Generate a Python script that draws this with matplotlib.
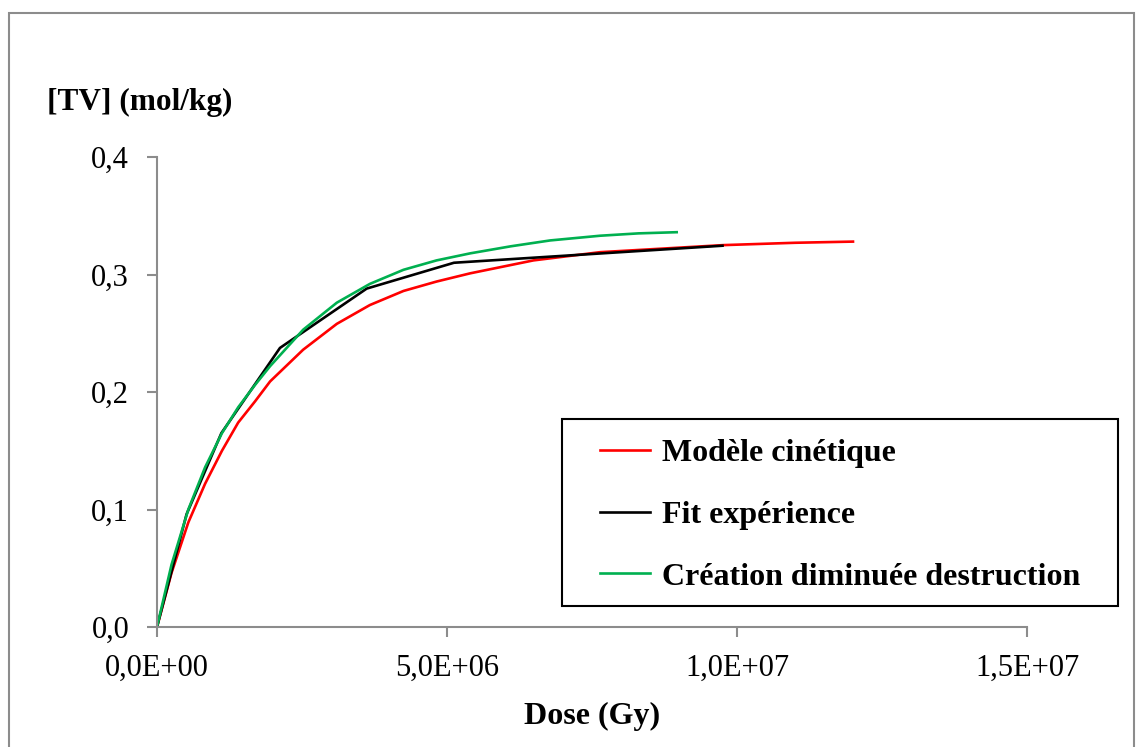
import matplotlib
matplotlib.use("Agg")
import matplotlib.pyplot as plt
from matplotlib.patches import Rectangle

plt.rcParams['font.family'] = ['Liberation Serif', 'DejaVu Serif']

# Data (dose in Gy, [TV] in mol/kg)
dose_modele = [0, 0.25e6, 0.54e6, 0.83e6, 1.12e6, 1.40e6, 1.69e6, 1.95e6, 2.52e6,
               3.10e6, 3.67e6, 4.25e6, 4.82e6, 5.40e6, 6.49e6, 7.64e6, 8.7e6,
               9.76e6, 11.0e6, 12.0e6]
tv_modele = [0, 0.046, 0.089, 0.122, 0.150, 0.174, 0.192, 0.209, 0.236,
             0.258, 0.274, 0.286, 0.294, 0.301, 0.312, 0.319, 0.322,
             0.325, 0.327, 0.328]

dose_fit = [0, 0.51e6, 1.11e6, 2.12e6, 3.615e6, 5.12e6, 9.75e6]
tv_fit = [0, 0.096, 0.165, 0.2375, 0.288, 0.310, 0.3245]

dose_creation = [0, 0.25e6, 0.54e6, 0.83e6, 1.12e6, 1.40e6, 1.69e6, 1.95e6, 2.52e6,
                 3.10e6, 3.67e6, 4.25e6, 4.82e6, 5.40e6, 6.10e6, 6.78e6, 7.64e6,
                 8.30e6, 8.96e6]
tv_creation = [0, 0.053, 0.100, 0.136, 0.165, 0.187, 0.206, 0.222, 0.253,
               0.276, 0.292, 0.304, 0.312, 0.318, 0.324, 0.329, 0.333,
               0.335, 0.336]

labels = ["Modèle cinétique", "Fit expérience", "Création diminuée destruction"]
colors = ["#FF0000", "#000000", "#00B050"]

xticks = [0, 5e6, 1e7, 1.5e7]
xtick_labels = ["0,0E+00", "5,0E+06", "1,0E+07", "1,5E+07"]
yticks = [0, 0.1, 0.2, 0.3, 0.4]
ytick_labels = ["0,0", "0,1", "0,2", "0,3", "0,4"]

W, H = 1136, 747
fig = plt.figure(figsize=(W / 100, H / 100), dpi=100)
ax = fig.add_axes([157 / W, 1 - 627 / H, (1027 - 157) / W, (627 - 157) / H])

ax.plot(dose_modele, tv_modele, color=colors[0], lw=1.9, label=labels[0])
ax.plot(dose_fit, tv_fit, color=colors[1], lw=1.9, label=labels[1])
ax.plot(dose_creation, tv_creation, color=colors[2], lw=1.9, label=labels[2])

ax.set_xlim(0, 1.5e7)
ax.set_ylim(0, 0.4)
ax.set_xticks(xticks)
ax.set_xticklabels(xtick_labels)
ax.set_yticks(yticks)
ax.set_yticklabels(ytick_labels)

for s in ['top', 'right']:
    ax.spines[s].set_visible(False)
for s in ['left', 'bottom']:
    ax.spines[s].set_color('#8c8c8c')
    ax.spines[s].set_linewidth(1.5)
ax.tick_params(axis='both', direction='out', length=7, width=1.5, color='#8c8c8c',
               labelsize=22, labelcolor='black')
ax.tick_params(axis='y', pad=13)
ax.tick_params(axis='x', pad=12)

ax.set_xlabel("Dose (Gy)", fontsize=23, fontweight='bold', labelpad=14)
fig.text(47 / W, 1 - 102 / H, "[TV] (mol/kg)", fontsize=22.5, fontweight='bold',
         ha='left', va='center')

# Legend (entries) + its frame
leg = ax.legend(loc='center left', bbox_to_anchor=(600 / W, 1 - 515 / H),
                bbox_transform=fig.transFigure, frameon=False,
                prop={'size': 23, 'weight': 'bold'}, handlelength=1.57,
                handletextpad=0.38, labelspacing=1.02, borderpad=0,
                borderaxespad=0)
for h in leg.get_lines():
    h.set_linewidth(1.9)
fig.patches.append(Rectangle((562 / W, 1 - 606 / H), (1118 - 562) / W, (606 - 419) / H,
                             transform=fig.transFigure, fill=False,
                             edgecolor='black', linewidth=1.5, zorder=5))

# Chart-area border
fig.patches.append(Rectangle((9 / W, -0.01), (1134 - 9) / W, 1 - 13 / H + 0.01,
                             transform=fig.transFigure, fill=False,
                             edgecolor='#8c8c8c', linewidth=1.5))

fig.savefig("out.png", dpi=100)
